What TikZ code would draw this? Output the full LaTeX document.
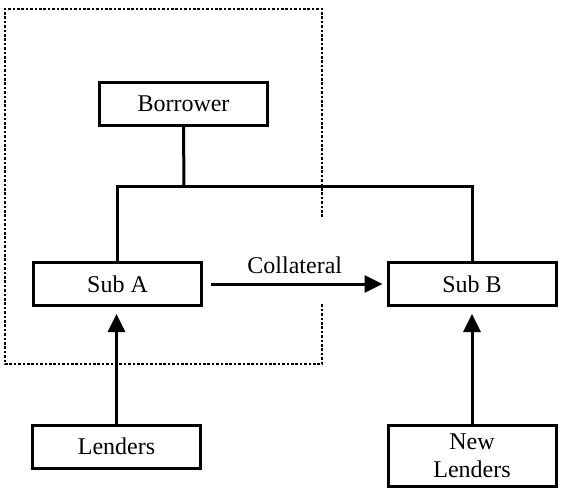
\documentclass[tikz,border=0pt]{standalone}
\usepackage{fontspec}
\setmainfont{Liberation Serif}
\usetikzlibrary{arrows.meta}
\begin{document}
\begin{tikzpicture}[x=1pt,y=-1pt,
  box/.style={draw,line width=3pt,minimum width=168pt,minimum height=43pt,inner sep=0pt,align=center,font=\fontsize{24}{28}\selectfont},
  link/.style={line width=3pt},
  arr/.style={line width=3pt,-{Triangle[length=18pt,width=17pt]}},
  frame/.style={line width=2.8pt,dash pattern=on 2.6pt off 1.8pt}]
\useasboundingbox (0,0) rectangle (568,496);
\node[box] (borrower) at (183.5,104) {Borrower};
\node[box] (subA) at (117.5,284) {Sub A};
\node[box] (subB) at (472,284) {Sub B};
\node[box] (lenders) at (116.5,446.5) {Lenders};
\node[box,minimum height=61pt] (newl) at (472,455.5) {New\\Lenders};
\coordinate (j) at (184,186);
\draw[link] (borrower.south) -- (j);
\draw[link] (subA.north) |- (j) -| (subB.north);
\draw[arr,shorten <=8pt,shorten >=4pt] (subA.east) -- node[above=5pt,font=\fontsize{24}{28}\selectfont] (coll) {Collateral} (subB.west);
\draw[arr,shorten >=7pt] (lenders.north) -- (lenders.north |- subA.south);
\draw[arr,shorten >=7pt] (newl.north) -- (subB.south);
\coordinate (f1) at (322,217);
\coordinate (f2) at (322,9);
\coordinate (f3) at (5,9);
\coordinate (f4) at (5,364);
\coordinate (f5) at (322,364);
\coordinate (f6) at (322,303);
\draw[frame] (f1) -- (f2) -- (f3) -- (f4) -- (f5) -- (f6);
\end{tikzpicture}
\end{document}
